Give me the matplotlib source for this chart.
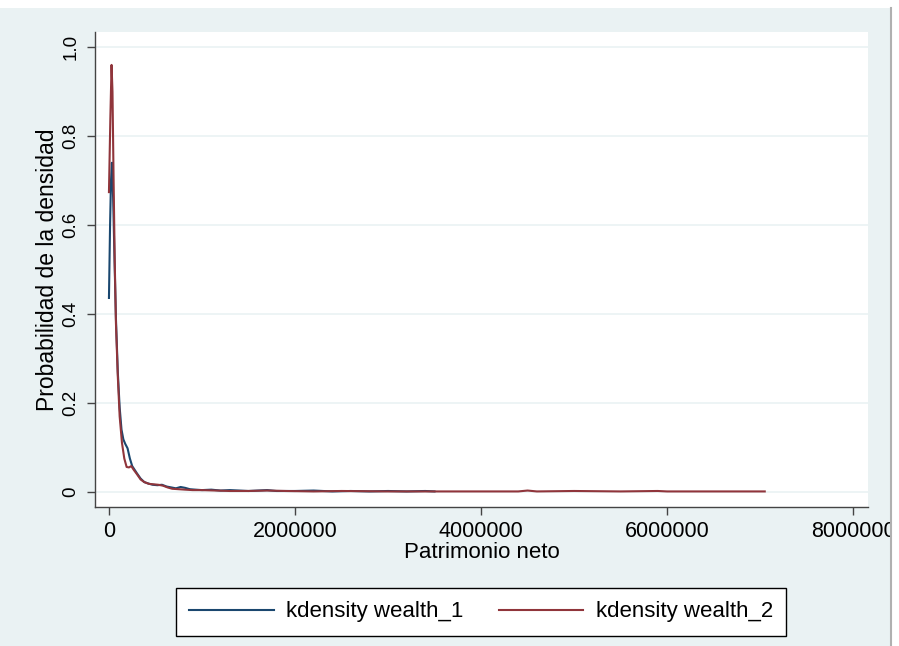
import matplotlib.pyplot as plt
import numpy as np

plt.rcParams['font.family'] = ['Liberation Sans', 'DejaVu Sans']

# kdensity wealth_1
x1 = [0, 12e3, 22e3, 32e3, 45e3, 60e3, 75e3, 95e3, 115e3, 135e3, 155e3,
      175e3, 200e3, 225e3, 250e3, 275e3, 300e3, 340e3, 380e3, 420e3, 470e3,
      520e3, 570e3, 620e3, 670e3, 720e3, 770e3, 820e3, 870e3, 930e3, 1000e3,
      1100e3, 1200e3, 1300e3, 1400e3, 1500e3, 1600e3, 1700e3, 1800e3, 1900e3,
      2000e3, 2200e3, 2400e3, 2600e3, 2800e3, 3000e3, 3200e3, 3400e3, 3500e3]
y1 = [0.436, 0.60, 0.70, 0.74, 0.66, 0.52, 0.39, 0.27, 0.19, 0.14, 0.118,
      0.108, 0.098, 0.075, 0.058, 0.050, 0.042, 0.030, 0.022, 0.019, 0.016,
      0.015, 0.016, 0.012, 0.010, 0.008, 0.011, 0.009, 0.006, 0.005, 0.004,
      0.005, 0.003, 0.004, 0.003, 0.002, 0.003, 0.004, 0.002, 0.002,
      0.002, 0.003, 0.001, 0.002, 0.001, 0.002, 0.001, 0.002, 0.001]

# kdensity wealth_2
x2 = [0, 15e3, 28e3, 38e3, 50e3, 62e3, 75e3, 95e3, 115e3, 140e3, 165e3,
      190e3, 215e3, 240e3, 265e3, 300e3, 340e3, 380e3, 430e3, 480e3, 530e3,
      580e3, 630e3, 680e3, 750e3, 820e3, 900e3, 1000e3, 1150e3, 1300e3,
      1500e3, 1700e3, 1900e3, 2200e3, 2500e3, 3000e3, 3500e3, 4000e3, 4400e3,
      4500e3, 4600e3, 5000e3, 5500e3, 5900e3, 6000e3, 6500e3, 7050e3]
y2 = [0.674, 0.84, 0.96, 0.90, 0.70, 0.52, 0.38, 0.26, 0.17, 0.11, 0.075,
      0.056, 0.055, 0.058, 0.050, 0.040, 0.028, 0.022, 0.018, 0.017, 0.016,
      0.014, 0.010, 0.007, 0.006, 0.005, 0.004, 0.004, 0.003, 0.002,
      0.002, 0.003, 0.002, 0.001, 0.002, 0.001, 0.001, 0.001, 0.001,
      0.003, 0.001, 0.002, 0.001, 0.002, 0.001, 0.001, 0.001]

x_ticks = [0, 2000000, 4000000, 6000000, 8000000]
y_ticks = [0, 0.2, 0.4, 0.6, 0.8, 1.0]
y_labels = ['0', '0.2', '0.4', '0.6', '0.8', '1.0']

bg = '#eaf2f3'
navy = '#1a476f'
maroon = '#90353b'

fig = plt.figure(figsize=(8.99, 6.46), dpi=100, facecolor=bg)
ax = fig.add_axes([95/899, 1-507/646, (868-95)/899, (507-32)/646])
ax.set_facecolor('white')

ax.plot(x1, y1, color=navy, lw=1.5, label='kdensity wealth_1')
ax.plot(x2, y2, color=maroon, lw=1.5, label='kdensity wealth_2')

ax.set_xlim(-150000, 8160000)
ax.set_ylim(-0.034, 1.034)
ax.set_xticks(x_ticks)
ax.set_xticklabels([str(v) for v in x_ticks], fontsize=15.5)
ax.set_yticks(y_ticks)
ax.set_yticklabels(y_labels, fontsize=13.5, rotation=90, va='center')
ax.grid(axis='y', color=bg, lw=1.2)
ax.set_axisbelow(True)
for s in ['top', 'right']:
    ax.spines[s].set_visible(False)
for s in ['left', 'bottom']:
    ax.spines[s].set_color('#444444')
    ax.spines[s].set_linewidth(1.0)
ax.tick_params(direction='out', length=6, width=1, color='#444444')
ax.tick_params(axis='x', pad=4)
ax.tick_params(axis='y', pad=5)

ax.set_xlabel('Patrimonio neto', fontsize=16, labelpad=0)
ax.set_ylabel('Probabilidad de la densidad', fontsize=16.5, labelpad=3)

leg = fig.legend(loc='center', bbox_to_anchor=(481/899, 1-612/646), ncol=2,
                 fontsize=16, frameon=True, fancybox=False, edgecolor='black',
                 framealpha=1, handlelength=3.8, handletextpad=0.55,
                 columnspacing=1.6, borderpad=0.6)
leg.get_frame().set_linewidth(1.0)

# screenshot edges: white strip on top and right, gray separator line
fig.add_artist(plt.Rectangle((0, 1-8/646), 1, 8/646, transform=fig.transFigure,
                             color='white', lw=0))
fig.add_artist(plt.Rectangle((891/899, 0), 8/899, 1, transform=fig.transFigure,
                             color='white', lw=0))
fig.add_artist(plt.Line2D([890.5/899, 890.5/899], [0, 1-8/646],
                          transform=fig.transFigure, color='#b0b0b0', lw=1.5))

fig.savefig('out.png', dpi=100, facecolor=fig.get_facecolor())
